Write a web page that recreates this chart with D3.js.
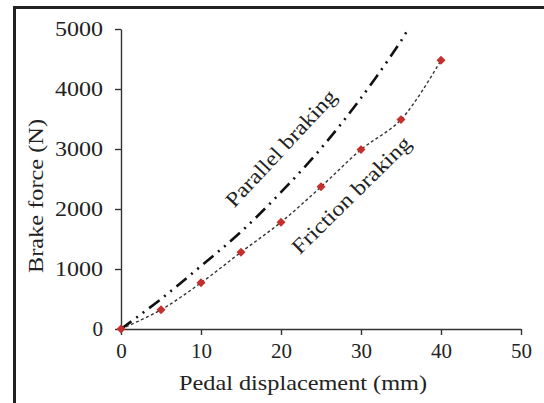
<!DOCTYPE html>
<html lang="en">
<head>
  <meta charset="UTF-8">
  <title>Brake force vs pedal displacement</title>
  <style>
    body { margin: 0; background: #fff; }
    svg { display: block; }
    text { font-family: "Liberation Serif", "Times New Roman", serif; }
  </style>
  <script src="https://d3js.org/d3.v7.min.js"></script>
</head>
<body>
  <svg id="chart" width="544" height="403"></svg>
  <script>
    // values
    const frictionX = [0, 5, 10, 15, 20, 25, 30, 35, 40];
    const frictionY = [0, 320, 770, 1280, 1780, 2370, 2990, 3490, 4480];
    const parallelX = [0, 5, 10, 15, 20, 25, 30, 35, 35.8];
    const parallelY = [0, 500, 1050, 1620, 2280, 3010, 3850, 4800, 4980];
    const xTicks = [0, 10, 20, 30, 40, 50];
    const yTicks = [0, 1000, 2000, 3000, 4000, 5000];

    const svg = d3.select('#chart');
    const x = d3.scaleLinear().domain([0, 50]).range([121, 521]);
    const y = d3.scaleLinear().domain([0, 5000]).range([329, 29]);

    // frame (left + top edges of the cropped figure)
    svg.append('path')
      .attr('d', 'M14.5,403V7.5H544')
      .attr('fill', 'none')
      .attr('stroke', '#222')
      .attr('stroke-width', 3);

    const xAxis = svg.append('g')
      .attr('transform', `translate(0,${y(0)})`)
      .call(d3.axisBottom(x).tickValues(xTicks).tickFormat(d3.format('d'))
        .tickSize(6).tickPadding(6).tickSizeOuter(0));
    const yAxis = svg.append('g')
      .attr('transform', `translate(${x(0)},0)`)
      .call(d3.axisLeft(y).tickValues(yTicks).tickFormat(d3.format('d'))
        .tickSize(6).tickPadding(12).tickSizeOuter(0));

    [xAxis, yAxis].forEach(g => {
      g.selectAll('path, line').attr('stroke', '#333').attr('stroke-width', 1.4);
      g.selectAll('text')
        .attr('fill', '#222')
        .style('font-family', '"Liberation Serif", "Times New Roman", serif')
        .style('font-size', '21px');
    });
    xAxis.selectAll('text').attr('dy', '0.8em');
    yAxis.selectAll('text')
      .filter(d => d > 0)
      .attr('textLength', 48)
      .attr('lengthAdjust', 'spacingAndGlyphs');

    const fric = frictionX.map((v, i) => [v, frictionY[i]]);
    const para = parallelX.map((v, i) => [v, parallelY[i]]);

    const line = d3.line()
      .x(d => x(d[0]))
      .y(d => y(d[1]))
      .curve(d3.curveCatmullRom);

    svg.append('path')
      .datum(para)
      .attr('d', line)
      .attr('fill', 'none')
      .attr('stroke', '#111')
      .attr('stroke-width', 2.6)
      .attr('stroke-dasharray', '13,6,2,6,2,6');

    svg.append('path')
      .datum(fric)
      .attr('d', line)
      .attr('fill', 'none')
      .attr('stroke', '#333')
      .attr('stroke-width', 1.4)
      .attr('stroke-dasharray', '3,2.5');

    svg.append('g')
      .selectAll('path')
      .data(fric)
      .join('path')
      .attr('transform', d => `translate(${x(d[0])},${y(d[1])}) rotate(45)`)
      .attr('d', d3.symbol(d3.symbolSquare, 40))
      .attr('fill', '#c4302c');

    // curve labels
    svg.append('text')
      .attr('transform', 'translate(286,153) rotate(-47)')
      .attr('text-anchor', 'middle')
      .attr('textLength', 152)
      .attr('lengthAdjust', 'spacingAndGlyphs')
      .style('font-size', '21px')
      .attr('fill', '#222')
      .text('Parallel braking');

    svg.append('text')
      .attr('transform', 'translate(356,200) rotate(-44.5)')
      .attr('text-anchor', 'middle')
      .attr('textLength', 158)
      .attr('lengthAdjust', 'spacingAndGlyphs')
      .style('font-size', '21px')
      .attr('fill', '#222')
      .text('Friction  braking');

    // axis titles
    svg.append('text')
      .attr('x', 303)
      .attr('y', 390)
      .attr('text-anchor', 'middle')
      .attr('textLength', 248)
      .attr('lengthAdjust', 'spacingAndGlyphs')
      .style('font-size', '22px')
      .attr('fill', '#222')
      .text('Pedal displacement (mm)');

    svg.append('text')
      .attr('transform', 'translate(43,196) rotate(-90)')
      .attr('text-anchor', 'middle')
      .attr('textLength', 154)
      .attr('lengthAdjust', 'spacingAndGlyphs')
      .style('font-size', '22px')
      .attr('fill', '#222')
      .text('Brake force (N)');
  </script>
</body>
</html>
